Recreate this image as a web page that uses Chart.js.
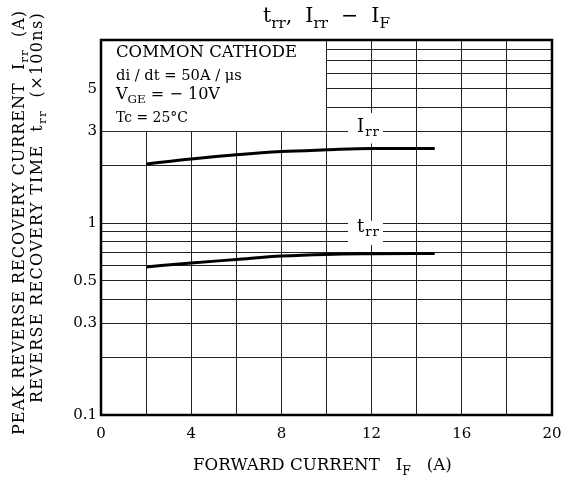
<!DOCTYPE html>
<html>
<head>
<meta charset="utf-8">
<script src="https://cdn.jsdelivr.net/npm/chart.js@4/dist/chart.umd.min.js"></script>
<style>
  html, body { margin: 0; padding: 0; background: #fff; }
  #wrap { width: 568px; height: 481px; }
</style>
</head>
<body>
<div id="wrap"><canvas id="myChart" width="568" height="481"></canvas></div>
<script>
// values
const forwardCurrent = [2, 4, 6, 8, 10, 12, 14.8];
const irrValues = [2.03, 2.16, 2.27, 2.36, 2.41, 2.45, 2.45];
const trrValues = [0.591, 0.620, 0.646, 0.673, 0.687, 0.692, 0.695];

// axes
const xGridTicks = [0, 2, 4, 6, 8, 10, 12, 14, 16, 18, 20];
const xLabelTicks = [0, 4, 8, 12, 16, 20];
const yGridTicks = [0.1, 0.2, 0.3, 0.4, 0.5, 0.6, 0.7, 0.8, 0.9, 1, 2, 3, 4, 5, 6, 7, 8, 9];
const yLabelTicks = [0.1, 0.3, 0.5, 1, 3, 5];

const SERIF = '"DejaVu Serif", "Liberation Serif", serif';

// draw text made of normal / subscript pieces, optionally stretched to a width
function richText(ctx, parts, x, y, size, align, fitWidth)
{
    const font = p => (p[1] ? size * 0.74 : size) + 'px ' + SERIF;
    ctx.letterSpacing = '0px';
    let total = 0, chars = 0;
    parts.forEach(p => {
        ctx.font = font(p);
        total += ctx.measureText(p[0]).width;
        chars += p[0].length;
    });
    let ls = 0;
    if (fitWidth) {
        if (fitWidth < total) {
            size = size * fitWidth / total;
            total = fitWidth;
        } else {
            ls = (fitWidth - total) / chars;
            total = fitWidth;
        }
    }
    let cx = x;
    if (align === 'center') cx = x - total / 2;
    if (align === 'right') cx = x - total;
    ctx.textAlign = 'left';
    parts.forEach(p => {
        ctx.font = font(p);
        ctx.letterSpacing = '0px';
        const w = ctx.measureText(p[0]).width;
        ctx.letterSpacing = ls + 'px';
        ctx.fillText(p[0], cx, p[1] ? y + size * 0.32 : y);
        cx += w + ls * p[0].length;
    });
    ctx.letterSpacing = '0px';
}

const decorations = {
    id: 'decorations',
    beforeDatasetsDraw(chart) {
        const ctx = chart.ctx;
        const a = chart.chartArea;
        const xs = chart.scales.x, ys = chart.scales.y;
        ctx.save();
        ctx.fillStyle = '#fff';
        // condition box hides the grid in the upper left
        ctx.fillRect(a.left, a.top, xs.getPixelForValue(10) - a.left - 0.5, ys.getPixelForValue(3) - a.top - 0.5);
        // white backing of the curve labels
        ctx.fillRect(348, ys.getPixelForValue(3.75), 35, ys.getPixelForValue(2.6) - ys.getPixelForValue(3.75));
        ctx.fillRect(348, ys.getPixelForValue(1.03), 35, ys.getPixelForValue(0.77) - ys.getPixelForValue(1.03));

        ctx.fillStyle = '#000';
        ctx.textBaseline = 'middle';
        richText(ctx, [['I'], ['rr', 1]], 368.5, 127, 18, 'center', 23);
        richText(ctx, [['t'], ['rr', 1]], 368.5, 227, 18, 'center', 23);

        const bx = a.left + 15;
        richText(ctx, [['COMMON CATHODE']], bx, 53, 17, 'left', 181);
        richText(ctx, [['di / dt = 50A / \u03bcs']], bx, 76, 16, 'left', 126);
        richText(ctx, [['V'], ['GE', 1], [' = \u2212 10V']], bx, 95, 18, 'left', 104);
        richText(ctx, [['Tc = 25\u00b0C']], bx, 118, 16, 'left', 72);
        ctx.restore();
    },
    afterDraw(chart) {
        const ctx = chart.ctx;
        const a = chart.chartArea;
        ctx.save();
        ctx.strokeStyle = '#000';
        ctx.lineWidth = 2.5;
        ctx.strokeRect(a.left, a.top, a.right - a.left, a.bottom - a.top);

        ctx.fillStyle = '#000';
        ctx.textBaseline = 'middle';
        richText(ctx, [['t'], ['rr', 1], [',  I'], ['rr', 1], ['  \u2212  I'], ['F', 1]], 326.5, 17, 22.5, 'center', 127);
        richText(ctx, [['FORWARD CURRENT   I'], ['F', 1], ['   (A)']], 322.5, 466, 17.5, 'center', 259);

        ctx.rotate(-Math.PI / 2);
        richText(ctx, [['PEAK REVERSE RECOVERY CURRENT  I'], ['rr', 1], ['  (A)']], -10, 20, 16, 'right', 425);
        richText(ctx, [['REVERSE RECOVERY TIME  t'], ['rr', 1], ['  (\u00d7100ns)']], -12, 38, 16, 'right', 391);
        ctx.restore();
    }
};

const data = {
    datasets: [
        {
            label: 'Irr',
            data: forwardCurrent.map((v, i) => ({ x: v, y: irrValues[i] })),
            borderColor: '#000',
            borderWidth: 3,
            pointRadius: 0,
            cubicInterpolationMode: 'monotone'
        },
        {
            label: 'trr',
            data: forwardCurrent.map((v, i) => ({ x: v, y: trrValues[i] })),
            borderColor: '#000',
            borderWidth: 3,
            pointRadius: 0,
            cubicInterpolationMode: 'monotone'
        }
    ]
};

const config = {
    type: 'line',
    data,
    options: {
        responsive: false,
        animation: false,
        layout: { padding: { top: 40, right: 16, left: 0, bottom: 0 } },
        plugins: { legend: { display: false }, tooltip: { enabled: false } },
        scales: {
            x: {
                type: 'linear',
                min: 0,
                max: 20,
                afterBuildTicks: s => { s.ticks = xGridTicks.map(v => ({ value: v })); },
                afterFit: s => { s.height = 66; s.paddingRight = 0; s.paddingLeft = 0; },
                grid: { color: '#222', lineWidth: 1, drawTicks: false },
                border: { display: false },
                ticks: {
                    padding: 10,
                    color: '#000',
                    font: { family: SERIF, size: 15 },
                    callback: v => xLabelTicks.includes(v) ? String(v) : ''
                }
            },
            y: {
                type: 'logarithmic',
                min: 0.1,
                max: 9,
                afterBuildTicks: s => { s.ticks = yGridTicks.map(v => ({ value: v })); },
                afterFit: s => { s.width = 101; },
                grid: { color: '#222', lineWidth: 1, drawTicks: false },
                border: { display: false },
                ticks: {
                    padding: 4,
                    color: '#000',
                    font: { family: SERIF, size: 15 },
                    callback: v => yLabelTicks.includes(v) ? String(v) : ''
                }
            }
        }
    },
    plugins: [decorations]
};

const myChart = new Chart(document.getElementById('myChart'), config);
</script>
</body>
</html>
